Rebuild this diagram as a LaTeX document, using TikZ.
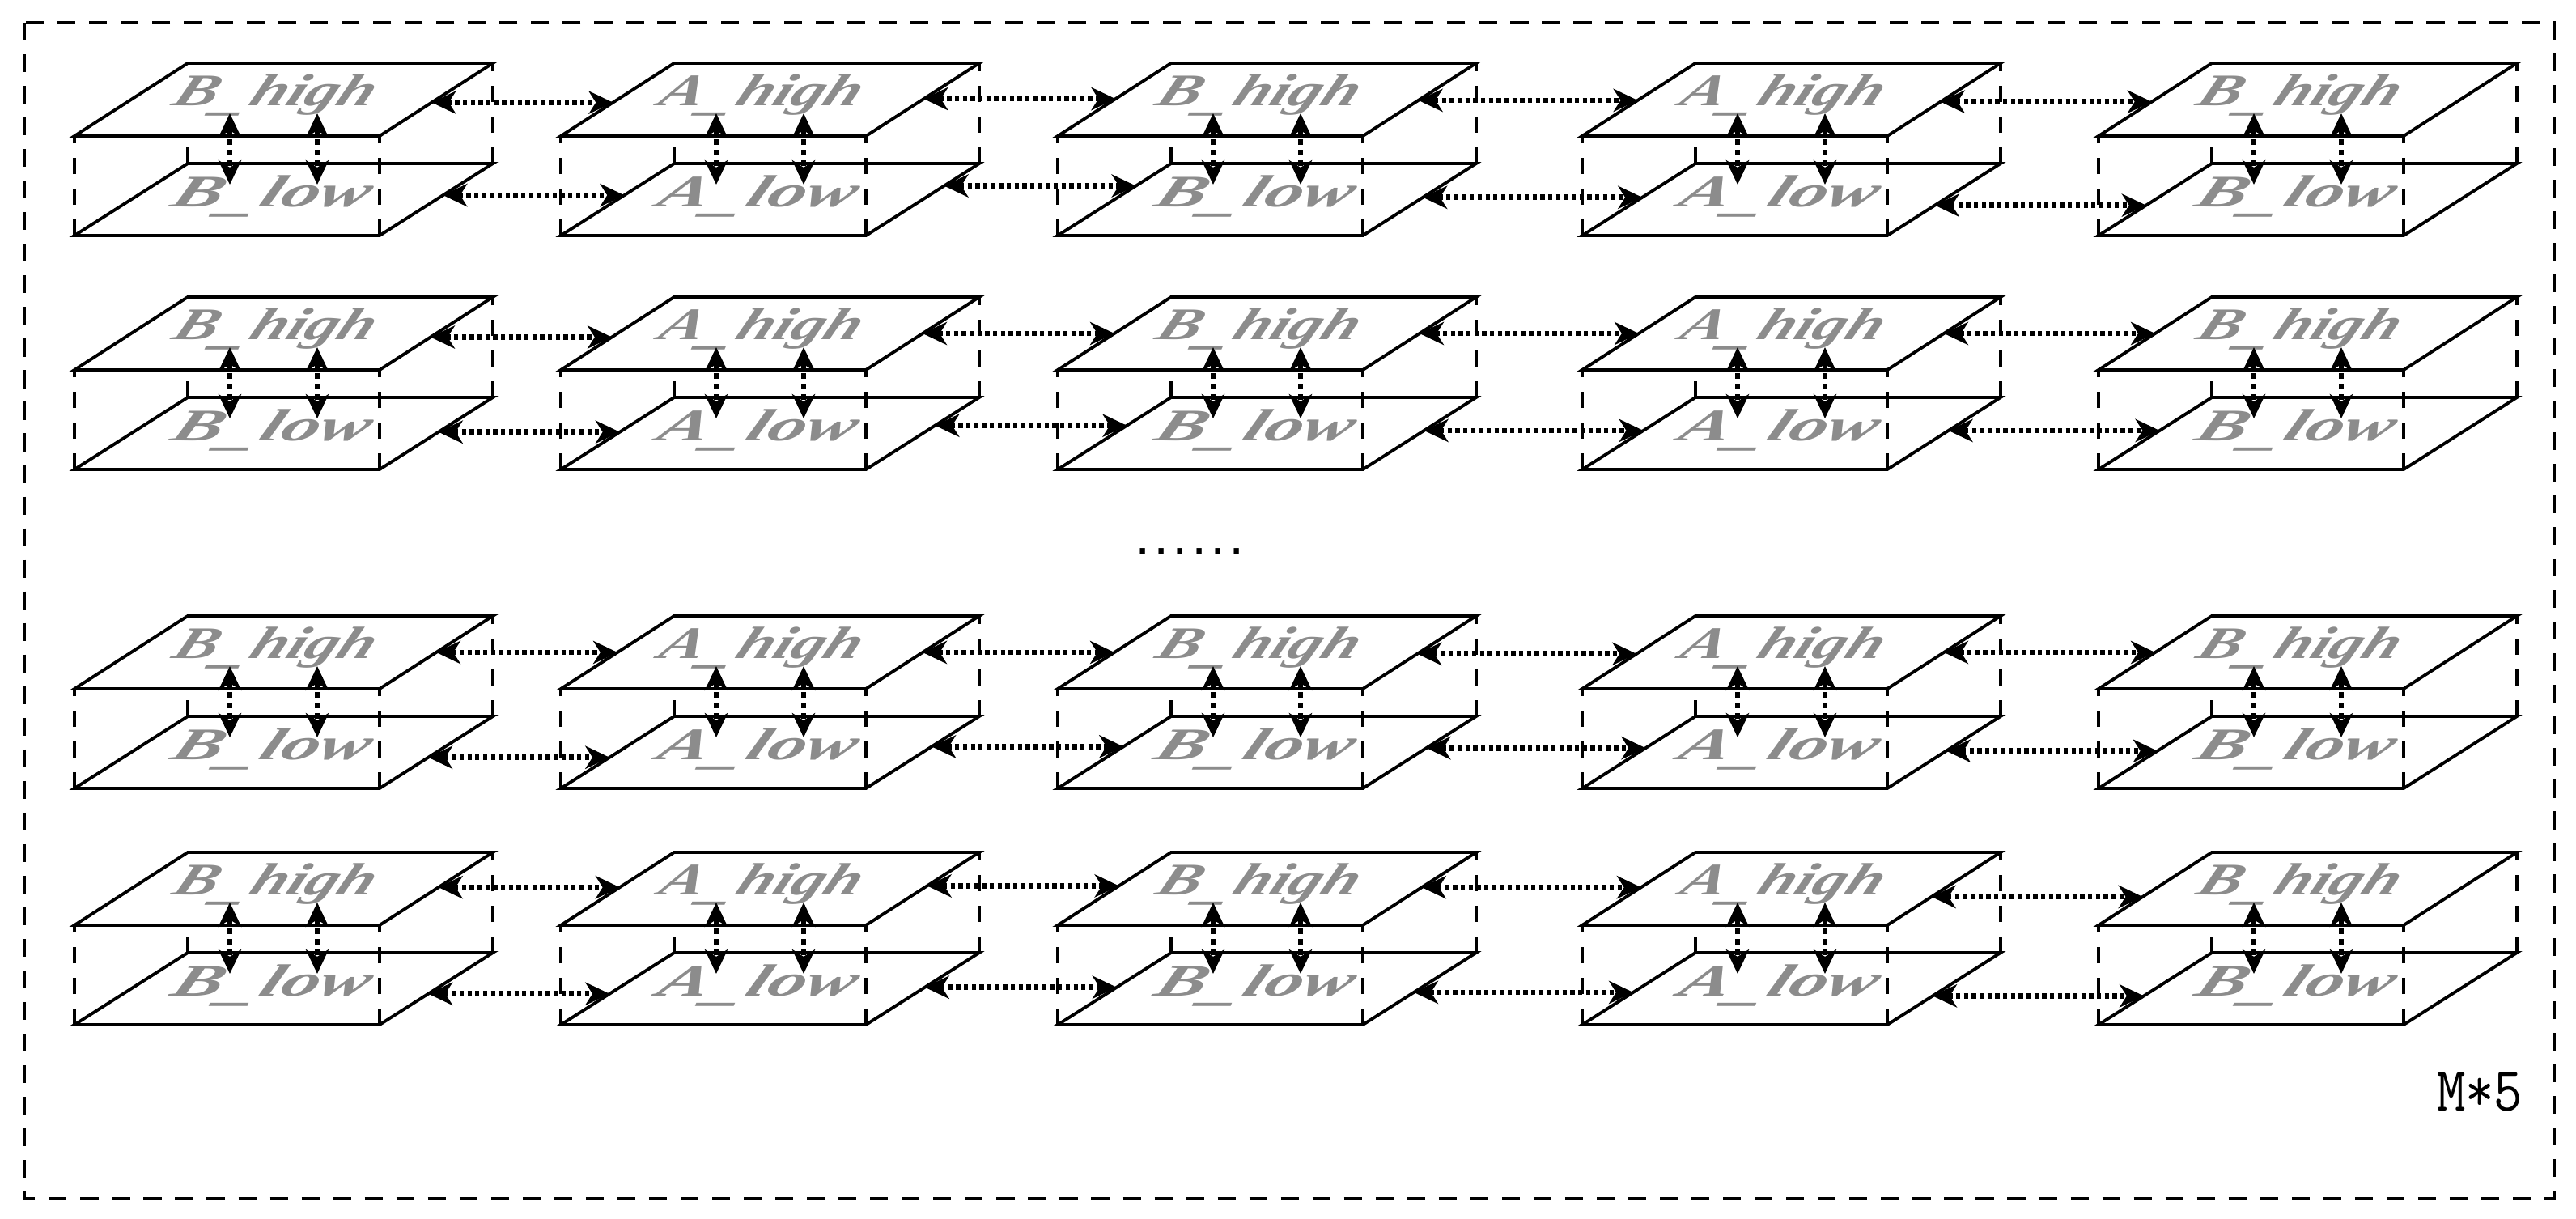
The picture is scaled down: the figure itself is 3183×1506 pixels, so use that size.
\documentclass[tikz,border=0pt]{standalone}
\usepackage{fontspec}
\usetikzlibrary{arrows.meta,calc}
\newfontfamily\platefont{Liberation Serif}
\newfontfamily\dotfont{DejaVu Sans Mono}
\definecolor{labelgray}{RGB}{140,140,140}
\newcommand{\lowbar}{\raisebox{-0.1em}{\_}}
\tikzset{
	edge/.style={line width=1.1pt},
	hidden/.style={line width=0.95pt, dash pattern=on 5.7pt off 5.1pt},
	link/.style={<->, line width=1.9pt, dash pattern=on 1.5pt off 1.25pt},
	vlink/.style={<->, line width=1.9pt, dash pattern=on 1.8pt off 1.9pt},
	lay/.style={inner sep=0pt, anchor=base west, text=labelgray, font=\platefont\bfseries\itshape\fontsize{23}{23}\selectfont, yscale=0.69, xslant=0.3}
}
\begin{document}
\begin{tikzpicture}[x=0.01cm, y=-0.01cm, line cap=butt, >={Stealth[length=8.5pt,width=8pt,inset=2.5pt]}]
	\def\w{377} \def\dx{140} \def\dy{90} \def\gap{124} \def\dep{213}
	\useasboundingbox (0,0) rectangle (3183,1506);
	\draw[line width=1.3pt, dash pattern=on 6.3pt off 4.8pt] (30,28) rectangle (3156,1481);
	% one block = two plates
	\foreach \r/\y in {1/78,2/367,3/761,4/1053}{
		\foreach \c/\x/\lab in {1/92/B,2/693/A,3/1307/B,4/1955/A,5/2593/B}{
			\coordinate (tfl\r\c) at (\x,\y+\dy);
			\coordinate (tfr\r\c) at (\x+\w,\y+\dy);
			\coordinate (tbl\r\c) at (\x+\dx,\y);
			\coordinate (tbr\r\c) at (\x+\w+\dx,\y);
			\coordinate (lfl\r\c) at (\x,\y+\dep);
			\coordinate (lfr\r\c) at (\x+\w,\y+\dep);
			\coordinate (lbl\r\c) at (\x+\dx,\y+\gap);
			\coordinate (lbr\r\c) at (\x+\w+\dx,\y+\gap);
			\draw[hidden] (lfl\r\c)--(tfl\r\c) (lfr\r\c)--(tfr\r\c)
			(lbl\r\c)--(tbl\r\c) (lbr\r\c)--(tbr\r\c);
			\draw[edge] (lfl\r\c)--(lfr\r\c)--(lbr\r\c)--(lbl\r\c)--cycle;
			\filldraw[edge, fill=white] (tfl\r\c)--(tfr\r\c)--(tbr\r\c)--(tbl\r\c)--cycle;
			\node[lay] (hi\r\c) at (\x+118,\y+52) {\lab\lowbar high};
			\node[lay, xscale=1.15] (lo\r\c) at (\x+116,\y+177) {\lab\lowbar low};
			\coordinate (ua\r\c) at (\x+192,\y+62);
			\coordinate (da\r\c) at (\x+192,\y+150);
			\coordinate (ub\r\c) at (\x+300,\y+62);
			\coordinate (db\r\c) at (\x+300,\y+150);
			\draw[vlink] (ua\r\c)--(da\r\c);
			\draw[vlink] (ub\r\c)--(db\r\c);
		}
	}
	% links between neighbours
	\foreach \r/\c/\n/\st/\sl in {1/1/2/0.46/0.56, 1/2/3/0.51/0.69, 1/3/4/0.49/0.53, 1/4/5/0.47/0.42,
		2/1/2/0.45/0.52, 2/2/3/0.5/0.61, 2/3/4/0.5/0.54, 2/4/5/0.5/0.54,
		3/1/2/0.5/0.43, 3/2/3/0.5/0.58, 3/3/4/0.48/0.56, 3/4/5/0.5/0.52,
		4/1/2/0.52/0.43, 4/2/3/0.54/0.52, 4/3/4/0.52/0.45, 4/4/5/0.39/0.4}{
		\draw[link] ($(tfr\r\c)!\st!(tbr\r\c)$)--($(tfl\r\n)!\st!(tbl\r\n)$);
		\draw[link] ($(lfr\r\c)!\sl!(lbr\r\c)$)--($(lfl\r\n)!\sl!(lbl\r\n)$);
	}
	\node[anchor=base, inner sep=0pt, font=\dotfont\bfseries\fontsize{11}{12}\selectfont] (more) at (1470,684) {......};
	\node[anchor=base east, inner sep=0pt, xscale=0.89, font=\ttfamily\fontsize{22}{22}\selectfont] (mult) at (3118,1372) {M*5};
\end{tikzpicture}
\end{document}
